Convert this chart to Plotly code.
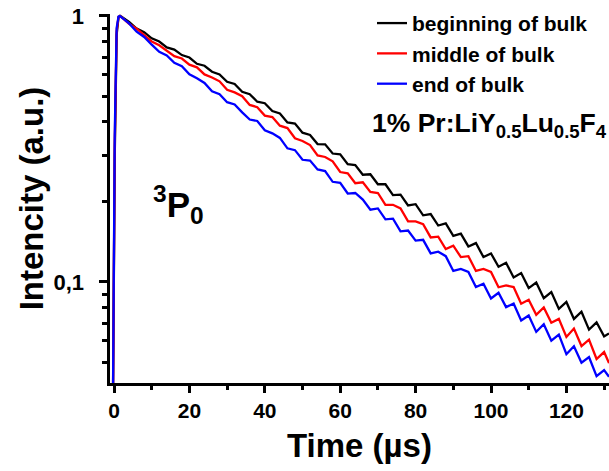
import plotly.graph_objects as go

# Time axis (µs)
time_us = [-0.4, 0.2, 0.7, 1.2, 1.6,
           2, 4, 6, 8, 10, 12, 14, 16, 18, 20, 22, 24, 26, 28, 30, 32, 34, 36, 38, 40,
           42, 44, 46, 48, 50, 52, 54, 56, 58, 60, 62, 64, 66, 68, 70, 72, 74, 76, 78, 80,
           82, 84, 86, 88, 90, 92, 94, 96, 98, 100, 102, 104, 106, 108, 110, 112, 114, 116,
           118, 120, 122, 124, 126, 128, 130, 131.3]

beginning = [0.02, 0.30, 0.85, 0.99, 1.0,
             0.993, 0.951, 0.897, 0.869, 0.824, 0.802, 0.762, 0.748, 0.713, 0.698, 0.661,
             0.650, 0.617, 0.603, 0.566, 0.555, 0.519, 0.508, 0.476, 0.470, 0.439, 0.430,
             0.398, 0.394, 0.364, 0.357, 0.330, 0.329, 0.304, 0.302, 0.277, 0.275, 0.253,
             0.254, 0.233, 0.233, 0.212, 0.213, 0.194, 0.196, 0.178, 0.180, 0.163, 0.166,
             0.149, 0.152, 0.136, 0.140, 0.124, 0.128, 0.114, 0.118, 0.104, 0.108, 0.0948,
             0.0995, 0.0869, 0.0916, 0.0792, 0.0841, 0.0726, 0.0773, 0.0662, 0.0705, 0.0624,
             0.0640]

middle = [0.02, 0.33, 0.88, 0.99, 1.0,
          0.991, 0.935, 0.897, 0.847, 0.802, 0.776, 0.743, 0.706, 0.692, 0.656, 0.641,
          0.603, 0.587, 0.568, 0.528, 0.516, 0.499, 0.463, 0.454, 0.422, 0.417, 0.387,
          0.379, 0.347, 0.339, 0.327, 0.299, 0.295, 0.284, 0.259, 0.256, 0.235, 0.237,
          0.218, 0.216, 0.195, 0.195, 0.189, 0.169, 0.169, 0.165, 0.147, 0.148, 0.133,
          0.137, 0.124, 0.125, 0.110, 0.112, 0.109, 0.0955, 0.0970, 0.0957, 0.0828, 0.0857,
          0.0752, 0.0802, 0.0702, 0.0726, 0.0621, 0.0668, 0.0574, 0.0607, 0.0513, 0.0545,
          0.0495]

end = [0.02, 0.36, 0.90, 0.995, 1.0,
       0.989, 0.938, 0.873, 0.834, 0.780, 0.733, 0.711, 0.667, 0.647, 0.604, 0.583,
       0.560, 0.521, 0.508, 0.474, 0.465, 0.434, 0.408, 0.403, 0.372, 0.362, 0.348,
       0.318, 0.313, 0.288, 0.286, 0.265, 0.261, 0.238, 0.236, 0.215, 0.216, 0.204,
       0.187, 0.189, 0.172, 0.173, 0.155, 0.156, 0.143, 0.144, 0.128, 0.130, 0.125,
       0.110, 0.112, 0.109, 0.0957, 0.0984, 0.0867, 0.0910, 0.0804, 0.0830, 0.0716, 0.0748,
       0.0649, 0.0693, 0.0601, 0.0634, 0.0535, 0.0573, 0.0497, 0.0522, 0.0442, 0.0466,
       0.0440]

series_names = ["beginning of bulk", "middle of bulk", "end of bulk"]
series_values = [beginning, middle, end]
series_colors = ["#000000", "#ff0000", "#0000ff"]

x_tick_vals = [0, 20, 40, 60, 80, 100, 120]
y_tick_vals = [0.1, 1]
y_tick_text = ["0,1\u00a0\u2009", "1\u00a0\u2009"]
y_minor_vals = [0.05, 0.06, 0.07, 0.08, 0.09, 0.2, 0.3, 0.4, 0.5, 0.6, 0.7, 0.8, 0.9]

FONT = "Liberation Sans, Arial, sans-serif"

fig = go.Figure()
for name, vals, col in zip(series_names, series_values, series_colors):
    fig.add_trace(go.Scatter(x=time_us, y=vals, mode="lines", name=name,
                             line=dict(color=col, width=2.3)))

fig.update_layout(
    width=609, height=471,
    margin=dict(l=110, r=0, t=14, b=88),
    paper_bgcolor="white", plot_bgcolor="white",
    font=dict(family=FONT, color="black"),
    showlegend=True,
    legend=dict(x=0.525, xanchor="left", y=1.03, yanchor="top",
                bgcolor="rgba(0,0,0,0)", borderwidth=0,
                font=dict(family=FONT, size=21, weight="bold", color="black"),
                tracegroupgap=0),
)

fig.update_xaxes(
    range=[-1.06, 131.3], showgrid=False, zeroline=False,
    showline=True, linewidth=3, linecolor="black",
    tickmode="array", tickvals=x_tick_vals,
    ticks="outside", ticklen=7, tickwidth=3, tickcolor="black",
    tickfont=dict(family=FONT, size=21, weight="bold"),
    minor=dict(ticks="outside", dtick=10, tick0=0, ticklen=4, tickwidth=3, tickcolor="black"),
    title=dict(text="Time (µs)", font=dict(family=FONT, size=33, weight="bold"), standoff=13),
)

fig.update_yaxes(
    type="log", range=[-1.38, 0.0075], showgrid=False, zeroline=False,
    showline=True, linewidth=3, linecolor="black",
    tickmode="array", tickvals=y_tick_vals, ticktext=y_tick_text,
    ticks="outside", ticklen=8, tickwidth=3, tickcolor="black",
    tickfont=dict(family=FONT, size=22, weight="bold"),
    minor=dict(ticks="outside", tickmode="array", tickvals=y_minor_vals,
               ticklen=5, tickwidth=3, tickcolor="black"),
    title=dict(text="Intencity (a.u.)", font=dict(family=FONT, size=33, weight="bold"), standoff=0),
)

fig.add_annotation(xref="paper", yref="paper", x=1.0, xanchor="right", y=0.70, yanchor="middle",
                   text="1% Pr:LiY<sub>0.5</sub>Lu<sub>0.5</sub>F<sub>4</sub>", showarrow=False,
                   font=dict(family=FONT, size=26.5, weight="bold", color="black"))
fig.add_annotation(xref="paper", yref="paper", x=0.082, xanchor="left", y=0.485, yanchor="middle",
                   text="<sup>3</sup>P<sub>0</sub>", showarrow=False,
                   font=dict(family=FONT, size=35, weight="bold", color="black"))

fig.write_html("out.html")
